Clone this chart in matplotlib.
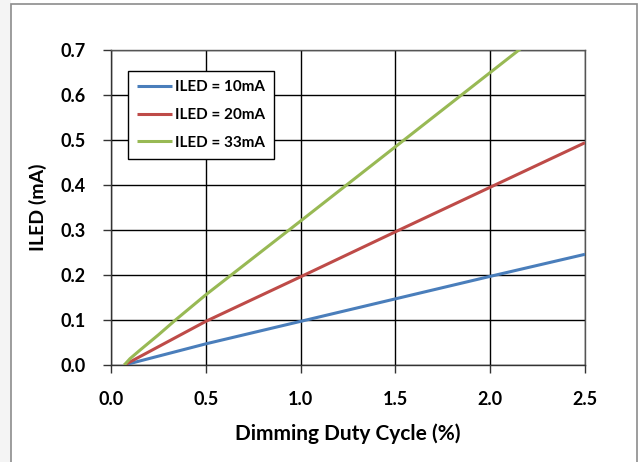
import matplotlib
matplotlib.use("Agg")
import matplotlib.pyplot as plt
from matplotlib.patches import Rectangle

plt.rcParams['font.family'] = ['Lato', 'DejaVu Sans']

# Data
x_10 = [0.07, 0.5, 1.0, 1.5, 2.0, 2.5]
y_10 = [0.0, 0.047, 0.097, 0.147, 0.197, 0.246]

x_20 = [0.07, 0.5, 1.0, 1.5, 2.0, 2.5]
y_20 = [0.0, 0.097, 0.196, 0.296, 0.395, 0.494]

x_33 = [0.07, 0.10, 0.15, 0.25, 0.34, 0.5, 1.0, 1.5, 2.0, 2.5]
y_33 = [0.0, 0.014, 0.032, 0.067, 0.100, 0.156, 0.320, 0.485, 0.650, 0.815]

series_labels = ['ILED = 10mA', 'ILED = 20mA', 'ILED = 33mA']
series_colors = ['#4a7ebb', '#be4b48', '#98b954']

x_ticks = [0.0, 0.5, 1.0, 1.5, 2.0, 2.5]
y_ticks = [0.0, 0.1, 0.2, 0.3, 0.4, 0.5, 0.6, 0.7]

W, H = 639, 462
fig = plt.figure(figsize=(W / 100, H / 100), dpi=100)
fig.patch.set_facecolor('white')

# left light-grey margin and outer chart border
fig.patches.append(Rectangle((0, 0), 11 / W, 1, transform=fig.transFigure,
                             facecolor='#f4f4f4', edgecolor='none', zorder=-10))
fig.patches.append(Rectangle((11 / W, -0.01), (637 - 11) / W, (462 - 4) / H + 0.01,
                             transform=fig.transFigure, facecolor='white',
                             edgecolor='#8c8c8c', linewidth=1.2, zorder=-10))

ax = fig.add_axes([111 / W, 1 - 365 / H, (585 - 111) / W, (365 - 50) / H])
ax.set_facecolor('white')

for xs, ys, lab, col in zip([x_10, x_20, x_33], [y_10, y_20, y_33], series_labels, series_colors):
    ax.plot(xs, ys, color=col, linewidth=2.2, label=lab, solid_capstyle='butt', zorder=3)

ax.set_xlim(0, 2.5)
ax.set_ylim(0, 0.7)
ax.set_xticks(x_ticks)
ax.set_yticks(y_ticks)
ax.set_xticklabels([f'{v:.1f}' for v in x_ticks])
ax.set_yticklabels([f'{v:.1f}' for v in y_ticks])
ax.grid(True, color='black', linewidth=1.0, zorder=1)
ax.set_axisbelow(True)

for side in ['left', 'bottom']:
    ax.spines[side].set_color('#333333')
    ax.spines[side].set_linewidth(1.0)
for side in ['top', 'right']:
    ax.spines[side].set_color('#555555')
    ax.spines[side].set_linewidth(1.0)

ax.tick_params(axis='both', direction='out', length=6, width=1.0, color='#333333',
               labelsize=13)
for lbl in ax.get_xticklabels() + ax.get_yticklabels():
    lbl.set_fontweight('bold')
ax.tick_params(axis='y', pad=12)
ax.tick_params(axis='x', pad=13)

ax.set_xlabel('Dimming Duty Cycle (%)', fontsize=15, fontweight='bold', labelpad=11)
ax.set_ylabel('ILED (mA)', fontsize=14, fontweight='bold', labelpad=10)

leg = ax.legend(loc='upper left', bbox_to_anchor=((128 - 111) / (585 - 111), 1 - (71 - 50) / (365 - 50)),
                frameon=True, fancybox=False, edgecolor='black', framealpha=1.0,
                fontsize=11, handlelength=2.3, handletextpad=0.15, labelspacing=0.9,
                borderpad=0.6, borderaxespad=0)
leg.get_frame().set_linewidth(1.0)
for t in leg.get_texts():
    t.set_fontweight('bold')
leg.set_zorder(5)

fig.savefig('out.png', dpi=100)
